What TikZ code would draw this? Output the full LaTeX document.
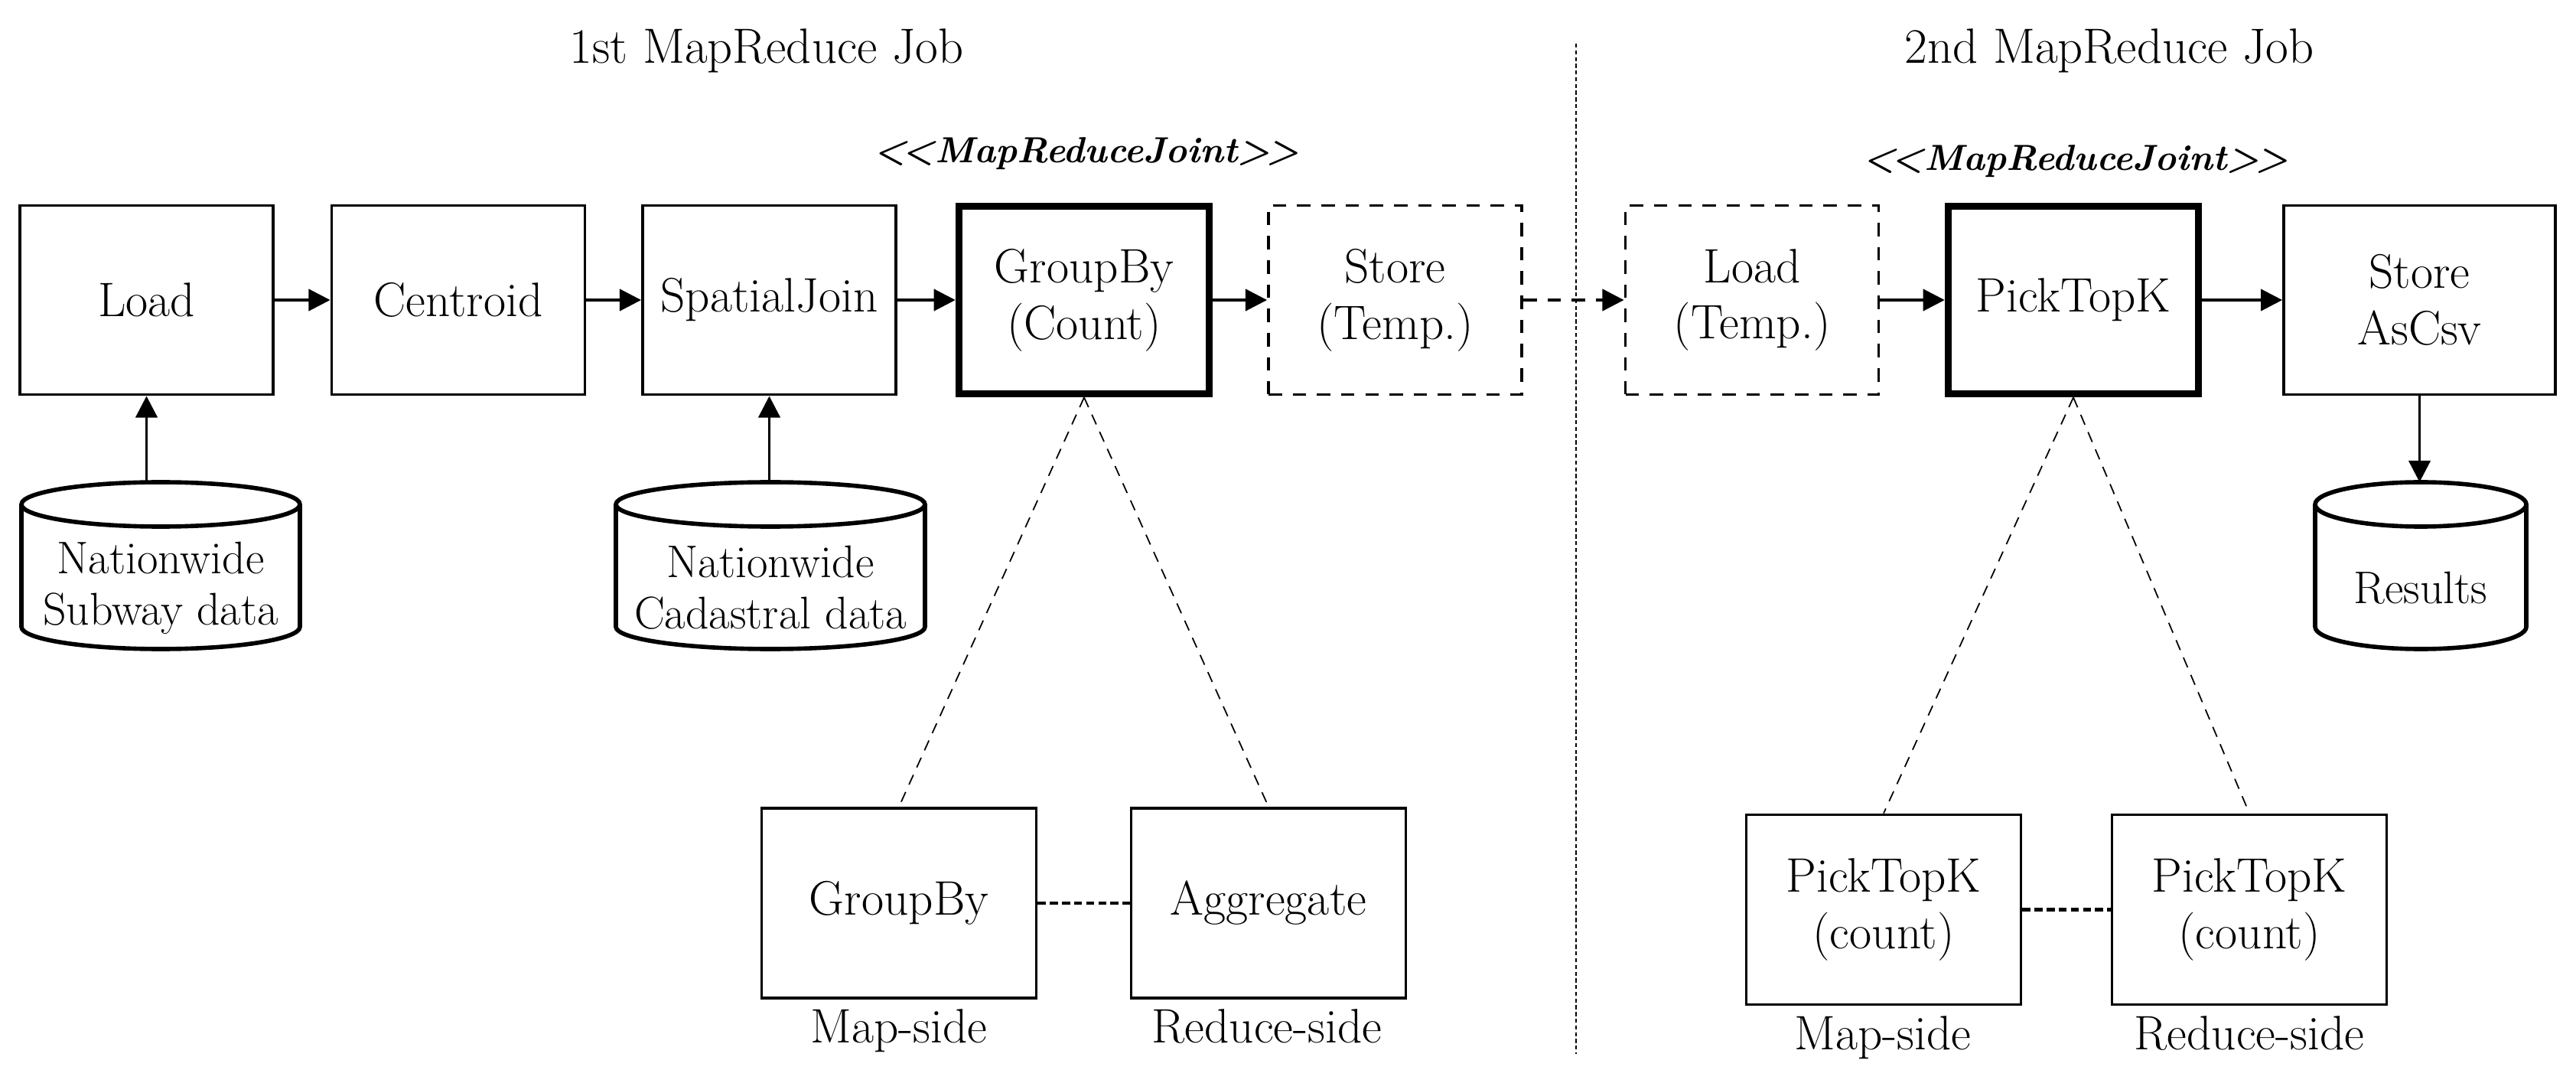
\documentclass[tikz,border=0pt]{standalone}
\usepackage{tikz}
\usetikzlibrary{arrows.meta, positioning, calc}

% tabung: badan di dalam node, tutup di atas dan lengkung di bawah
\newcommand{\tabung}[2]{%
  \draw[tepi] ($(#1.north west)+(0,0.29)$) -- ($(#1.south west)+(0,0.29)$)
    arc[start angle=180, end angle=360, x radius=#2, y radius=0.29]
    -- ($(#1.north east)+(0,0.29)$);
  \draw[tepi] ($(#1.north)+(0,0.29)$) ellipse[x radius=#2, y radius=0.29];
  \coordinate (#1-atas) at ($(#1.north)+(0,0.58)$);
}

\begin{document}
\begin{tikzpicture}[
    font=\fontsize{18}{21}\selectfont,
    kotak/.style={draw, line width=1.1pt, minimum height=2.47cm,
                  minimum width=3.31cm, align=center},
    tebal/.style={kotak, line width=2.7pt, minimum width=3.27cm, minimum height=2.45cm},
    putus/.style={kotak, dash pattern=on 5pt off 4pt},
    bawah/.style={kotak, minimum width=3.59cm, minimum height=2.48cm},
    tabungnode/.style={inner sep=0pt, outer sep=0pt, minimum height=1.6cm,
                   align=center, font=\fontsize{17}{19}\selectfont},
    tepi/.style={line width=1.6pt},
    judul/.style={anchor=base, font=\fontsize{18.4}{22}\selectfont},
    sendi/.style={anchor=base, font=\fontsize{13.5}{16}\selectfont\bfseries\itshape},
    sisi/.style={anchor=base},
    panah/.style={-{Triangle[length=8pt, width=8pt]}, line width=1.1pt},
    garis/.style={line width=0.5pt, dash pattern=on 4pt off 3pt},
    sambung/.style={line width=1.3pt, dash pattern=on 3pt off 1.5pt}
  ]
    \useasboundingbox (0,0) rectangle (33.67,14.14);

    % judul
    \node[judul] (job1) at (10.02,13.31) {1st MapReduce Job};
    \node[judul] (job2) at (27.57,13.31) {2nd MapReduce Job};
    \node[sendi] (joint1) at (14.2,12.01) {<\kern-0.1em<MapReduceJoint>\kern-0.1em>};
    \node[sendi] (joint2) at (27.13,11.91) {<\kern-0.1em<MapReduceJoint>\kern-0.1em>};
    \coordinate (pisahA) at (20.6,13.57);
    \coordinate (pisahB) at (20.6,0.37);
    \draw[line width=0.6pt, dash pattern=on 1.5pt off 1pt] (pisahA) -- (pisahB);

    % baris atas
    \node[kotak] (load) at (1.915,10.22) {Load};
    \node[kotak] (centroid) at (5.99,10.22) {Centroid};
    \node[kotak] (spatial) at (10.055,10.22) {SpatialJoin};
    \node[tebal] (grpcount) at (14.17,10.22) {GroupBy\\(Count)};
    \node[putus] (storetmp) at (18.235,10.22) {Store\\(Temp.)};
    \node[putus] (loadtmp) at (22.9,10.22) {Load\\(Temp.)};
    \node[tebal] (topk) at (27.1,10.22) {PickTopK};
    \node[kotak, minimum width=3.55cm] (storecsv) at (31.625,10.22) {Store\\AsCsv};

    % data
    \node[tabungnode, minimum width=3.64cm] (subway) at (2.10,6.46) {Nationwide\\Subway data};
    \node[tabungnode, minimum width=4.04cm] (cadastral) at (10.07,6.46) {Nationwide\\Cadastral data};
    \node[tabungnode, minimum width=2.76cm] (results) at (31.64,6.46) {Results};
    \tabung{subway}{1.82}
    \tabung{cadastral}{2.02}
    \tabung{results}{1.38}

    % baris bawah
    \node[bawah] (gbmap) at (11.75,2.34) {GroupBy};
    \node[bawah] (aggred) at (16.58,2.34) {Aggregate};
    \node[bawah] (topkmap) at (24.62,2.255) {PickTopK\\(count)};
    \node[bawah] (topkred) at (29.4,2.255) {PickTopK\\(count)};
    \node[sisi] (lbl1) at (11.75,0.52) {Map-side};
    \node[sisi] (lbl2) at (16.56,0.52) {Reduce-side};
    \node[sisi] (lbl3) at (24.61,0.43) {Map-side};
    \node[sisi] (lbl4) at (29.4,0.43) {Reduce-side};

    \draw[panah] (load) -- (centroid);
    \draw[panah] (centroid) -- (spatial);
    \draw[panah] (spatial) -- (grpcount);
    \draw[panah] (grpcount) -- (storetmp);
    \draw[panah, dash pattern=on 5pt off 4pt] (storetmp) -- (loadtmp);
    \draw[panah] (loadtmp) -- (topk);
    \draw[panah] (topk) -- (storecsv);
    \draw[panah] (subway-atas -| load.south) -- (load.south);
    \draw[panah] (cadastral-atas -| spatial.south) -- (spatial.south);
    \draw[panah] (storecsv.south) -- (results-atas -| storecsv.south);

    \draw[garis] (grpcount.south) -- (gbmap.north);
    \draw[garis] (grpcount.south) -- (aggred.north);
    \draw[garis] (topk.south) -- (topkmap.north);
    \draw[garis] (topk.south) -- (topkred.north);
    \draw[sambung] (gbmap) -- (aggred);
    \draw[sambung] (topkmap) -- (topkred);
  \end{tikzpicture}
\end{document}
